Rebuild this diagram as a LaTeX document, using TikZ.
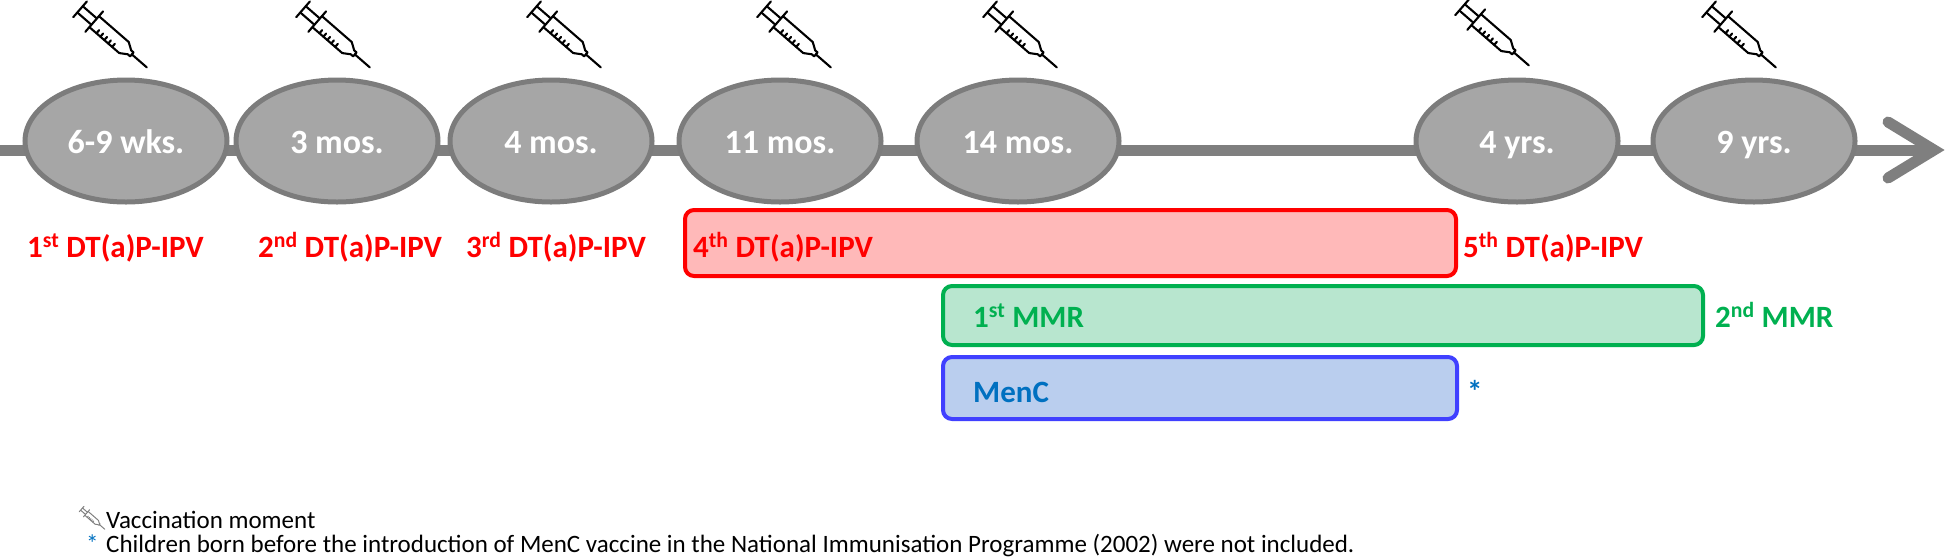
\documentclass[tikz,border=0pt]{standalone}
\usepackage{fontspec}
\setmainfont{Carlito}
\usetikzlibrary{shapes.geometric}
\definecolor{axisgray}{HTML}{7F7F7F}
\definecolor{ellfill}{HTML}{A6A6A6}
\definecolor{ellborder}{HTML}{7C7C7C}
\definecolor{vred}{HTML}{FF0000}
\definecolor{vredfill}{HTML}{FFB9B9}
\definecolor{vgreen}{HTML}{00B050}
\definecolor{vgreenfill}{HTML}{B8E6CF}
\definecolor{vblueline}{HTML}{4040FF}
\definecolor{vbluefill}{HTML}{BACEEE}
\definecolor{vbluetext}{HTML}{0070C0}
\tikzset{
  axisline/.style={draw=axisgray, line width=11pt},
  agebub/.style={ellipse, draw=ellborder, fill=ellfill, line width=5pt,
    minimum width=202pt, minimum height=122pt, inner sep=0pt,
    text=white, text height=24pt, text depth=0pt,
    font=\bfseries\fontsize{34}{40}\selectfont},
  lbl/.style={anchor=base west, inner sep=0pt, font=\bfseries\fontsize{31}{37}\selectfont},
  foot/.style={anchor=base west, inner sep=0pt, font=\fontsize{25}{28}\selectfont},
  agebox/.style={rounded corners=9pt, line width=4pt},
  syringe/.pic={
    \begin{scope}[rotate=-41, line cap=round, line join=round]
      \draw (-42pt,-10pt) -- (-42pt,10pt);
      \draw (-42pt,-4pt) -- (-24pt,-4pt) (-42pt,4pt) -- (-24pt,4pt);
      \draw (-24pt,-13pt) -- (-24pt,13pt);
      \draw (-24pt,7pt) -- (14pt,7pt) -- (21pt,2.5pt) -- (24pt,2.5pt) -- (24pt,-2.5pt)
            -- (21pt,-2.5pt) -- (14pt,-7pt) -- (-24pt,-7pt);
      \foreach \t in {-15,-10,-5,0,5} \draw (\t pt,-7pt) -- (\t pt,-3pt);
      \draw (24pt,0pt) -- (43pt,0pt);
    \end{scope}
  }
}
\begin{document}
\begin{tikzpicture}[x=1pt, y=-1pt]
\useasboundingbox (0,0) rectangle (1950,558);

% axis
\coordinate (axstart) at (0,150);
\coordinate (axend) at (1925,150);
\coordinate (tip) at (1934,150);
\coordinate (armup) at (1888,122);
\coordinate (armdn) at (1888,178);
\draw[axisline] (axstart) -- (axend);
\draw[axisline, line cap=round, line join=miter] (armup) -- (tip) -- (armdn);

% age bubbles
\node[agebub] (e1) at (126,141) {6-9 wks.};
\node[agebub] (e2) at (337,141) {3 mos.};
\node[agebub] (e3) at (551,141) {4 mos.};
\node[agebub] (e4) at (780,141) {11 mos.};
\node[agebub] (e5) at (1018,141) {14 mos.};
\node[agebub] (e6) at (1517,141) {4 yrs.};
\node[agebub] (e7) at (1754,141) {9 yrs.};

% syringes
\foreach \sx/\sy in {113/38, 336/38, 567/38, 797/38, 1023/38, 1495/36, 1742/38}
  \pic[scale=1.04, line width=2.1pt, black] at (\sx,\sy) {syringe};

% boxes
\draw[agebox, draw=vred, fill=vredfill] (685,210) rectangle (1456,276);
\draw[agebox, draw=vgreen, fill=vgreenfill] (943,286) rectangle (1703,345);
\draw[agebox, draw=vblueline, fill=vbluefill] (943,357) rectangle (1457,419);

% labels
\node[lbl, text=vred] (l1) at (27,257) {1\textsuperscript{st} DT(a)P-IPV};
\node[lbl, text=vred] (l2) at (258,257) {2\textsuperscript{nd} DT(a)P-IPV};
\node[lbl, text=vred] (l3) at (466,257) {3\textsuperscript{rd} DT(a)P-IPV};
\node[lbl, text=vred] (l4) at (693,257) {4\textsuperscript{th} DT(a)P-IPV};
\node[lbl, text=vred] (l5) at (1463,257) {5\textsuperscript{th} DT(a)P-IPV};
\node[lbl, text=vgreen] (m1) at (973,327) {1\textsuperscript{st} MMR};
\node[lbl, text=vgreen] (m2) at (1715,327) {2\textsuperscript{nd} MMR};
\node[lbl, text=vbluetext] (c1) at (973,402) {MenC};
\node[lbl, text=vbluetext] (c2) at (1467,402) {*};

% footer
\pic[scale=0.36, line width=1pt, draw=gray] at (93,519) {syringe};
\node[foot] (f1) at (106,528) {Vaccination moment};
\node[foot, text=vbluetext] (f2) at (86,552) {*};
\node[foot] (f3) at (106,552) {Children born before the introduction of MenC vaccine in the National Immunisation Programme (2002) were not included.};
\end{tikzpicture}
\end{document}
